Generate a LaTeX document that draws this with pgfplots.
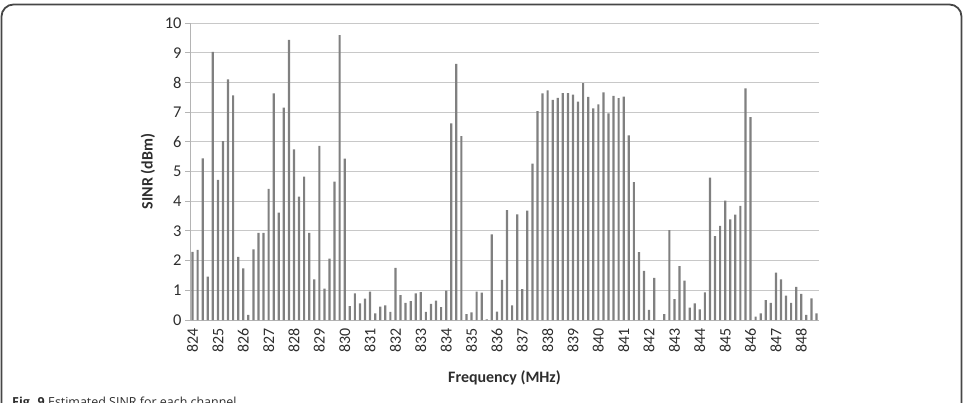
\documentclass[border=0pt]{standalone}
\usepackage{pgfplots}
\pgfplotsset{compat=1.18}
\usepackage{pgfplotstable}
\usepackage{fontspec}
\setmainfont{Carlito}
\newfontfamily\capfont{Open Sans}
\definecolor{gridc}{RGB}{200,200,200}
\definecolor{axc}{RGB}{180,180,180}
\definecolor{barc}{RGB}{128,128,128}
\definecolor{framec}{RGB}{70,70,70}
\definecolor{txt}{RGB}{45,45,45}

\pgfplotstableread{
f v
824.0 2.30
824.2 2.36
824.4 5.45
824.6 1.46
824.8 9.04
825.0 4.72
825.2 6.03
825.4 8.11
825.6 7.57
825.8 2.13
826.0 1.74
826.2 0.17
826.4 2.38
826.6 2.94
826.8 2.94
827.0 4.42
827.2 7.64
827.4 3.62
827.6 7.16
827.8 9.44
828.0 5.75
828.2 4.16
828.4 4.83
828.6 2.94
828.8 1.37
829.0 5.87
829.2 1.06
829.4 2.07
829.6 4.66
829.8 9.60
830.0 5.44
830.2 0.47
830.4 0.90
830.6 0.56
830.8 0.72
831.0 0.96
831.2 0.22
831.4 0.45
831.6 0.49
831.8 0.27
832.0 1.76
832.2 0.84
832.4 0.58
832.6 0.64
832.8 0.90
833.0 0.94
833.2 0.27
833.4 0.54
833.6 0.65
833.8 0.43
834.0 0.99
834.2 6.63
834.4 8.63
834.6 6.20
834.8 0.20
835.0 0.26
835.2 0.96
835.4 0.92
835.6 0.02
835.8 2.89
836.0 0.28
836.2 1.35
836.4 3.70
836.6 0.49
836.8 3.56
837.0 1.04
837.2 3.69
837.4 5.27
837.6 7.04
837.8 7.64
838.0 7.74
838.2 7.42
838.4 7.49
838.6 7.65
838.8 7.65
839.0 7.60
839.2 7.36
839.4 7.98
839.6 7.52
839.8 7.13
840.0 7.27
840.2 7.67
840.4 6.96
840.6 7.55
840.8 7.48
841.0 7.53
841.2 6.22
841.4 4.65
841.6 2.29
841.8 1.66
842.0 0.34
842.2 1.42
842.4 0.00
842.6 0.20
842.8 3.03
843.0 0.70
843.2 1.82
843.4 1.33
843.6 0.42
843.8 0.56
844.0 0.36
844.2 0.93
844.4 4.80
844.6 2.83
844.8 3.17
845.0 4.02
845.2 3.39
845.4 3.55
845.6 3.85
845.8 7.81
846.0 6.84
846.2 0.11
846.4 0.22
846.6 0.67
846.8 0.58
847.0 1.60
847.2 1.37
847.4 0.82
847.6 0.58
847.8 1.12
848.0 0.88
848.2 0.17
848.4 0.73
848.6 0.22
}\sinr

\begin{document}
\begin{tikzpicture}[x=1bp,y=1bp]
\useasboundingbox (0,0) rectangle (973,402);
\begin{scope}
\clip (0,0) rectangle (973,402);
\draw[framec, line width=1.8bp, rounded corners=12bp] (1.5,-30) rectangle (961.5,397.5);
\node[anchor=base west, inner sep=0, font=\capfont\fontsize{12.5}{14}\selectfont, text=txt] at (12,-4) {\textbf{Fig. 9} Estimated SINR for each channel};
\end{scope}
\begin{axis}[
  at={(190bp,82bp)}, anchor=south west,
  scale only axis, width=629bp, height=296.7bp,
  xmin=823.9, xmax=848.7, ymin=0, ymax=10,
  ytick={0,1,...,10}, xtick={824,825,...,848},
  /pgf/number format/assume math mode=true,
  /pgf/number format/1000 sep={},
  xticklabel style={rotate=90, anchor=east, font=\fontsize{16}{16}\selectfont, text=txt},
  yticklabel style={font=\fontsize{16.5}{16.5}\selectfont, text=txt},
  ymajorgrids, grid style={gridc, line width=1bp},
  axis x line*=bottom, axis y line*=left,
  axis line style={axc, line width=1bp},
  tick align=outside, major tick length=5bp,
  ytick style={axc, line width=1bp},
  xtick style={draw=none},
  ybar, bar width=2.2bp,
  xlabel={\textbf{Frequency (MHz)}}, ylabel={\textbf{SINR (dBm)}},
  label style={font=\fontsize{16}{16}\selectfont, text=txt},
  xlabel style={at={(axis description cs:0.5,-0.1955)}, anchor=center},
  ylabel style={at={(axis description cs:-0.0668,0.5)}, anchor=center},
]
\addplot[fill=barc, draw=none] table[x=f,y=v]{\sinr};
\end{axis}
\end{tikzpicture}
\end{document}
